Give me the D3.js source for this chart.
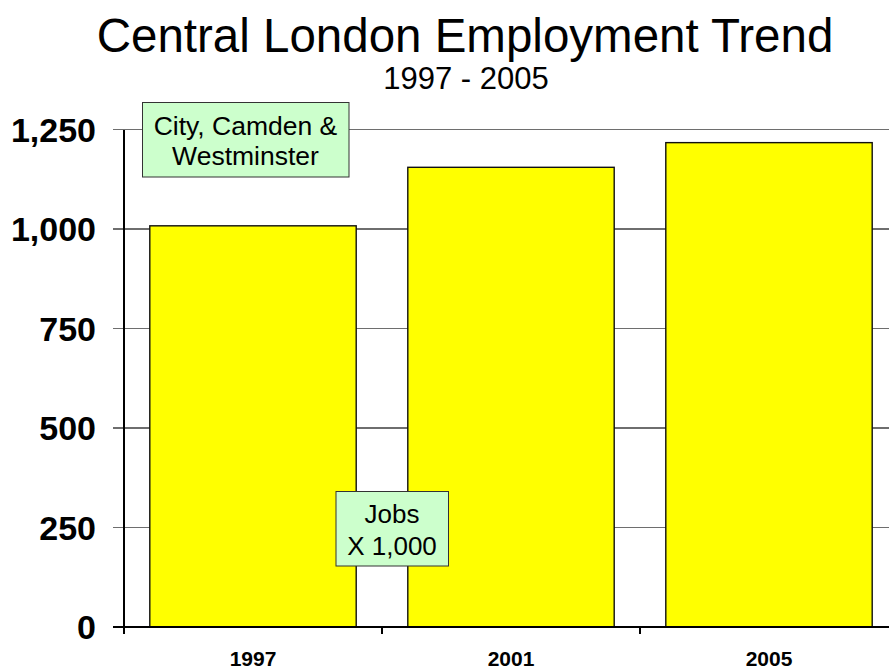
<!DOCTYPE html>
<html><head><meta charset="utf-8">
<script src="https://cdn.jsdelivr.net/npm/d3@7"></script>
<style>html,body{margin:0;padding:0;background:#fff;overflow:hidden}</style>
</head><body>
<script>
const categories = ["1997", "2001", "2005"];
const jobs = [1008, 1155, 1217];
const yTicks = [0, 250, 500, 750, 1000, 1250];
const titleText = "Central London Employment Trend";
const subtitleText = "1997 - 2005";
const areaLabel = ["City, Camden &", "Westminster"];
const unitLabel = ["Jobs", "X 1,000"];

const W = 889, H = 671;
const font = "'Liberation Sans', Arial, sans-serif";
const svg = d3.select("body").append("svg").attr("width", W).attr("height", H).style("font-family", font);

const x = d3.scaleBand().domain(categories).range([124, 898]).paddingInner(0.2).paddingOuter(0.1);
const y = d3.scaleLinear().domain([0, 1250]).range([627, 129.5]);
const step = x.step();
const x0 = 124;

// title
svg.append("text").attr("x", 465).attr("y", 52).attr("text-anchor", "middle")
  .attr("font-size", 47.5).text(titleText);
svg.append("text").attr("x", 466).attr("y", 89).attr("text-anchor", "middle")
  .attr("font-size", 31).text(subtitleText);

// gridlines
svg.append("g").selectAll("line").data(yTicks.filter(d => d > 0)).join("line")
  .attr("x1", 113).attr("x2", W).attr("y1", d => y(d)).attr("y2", d => y(d))
  .attr("stroke", "#6e6e6e").attr("stroke-width", 1.3).attr("shape-rendering", "crispEdges");

// bars
svg.append("g").selectAll("rect").data(jobs).join("rect")
  .attr("x", (d, i) => x(categories[i])).attr("width", x.bandwidth())
  .attr("y", d => y(d)).attr("height", d => y(0) - y(d))
  .attr("fill", "#ffff00").attr("stroke", "#111").attr("stroke-width", 1.4);

// y axis line
svg.append("line").attr("x1", x0).attr("x2", x0).attr("y1", y(1250)).attr("y2", 634)
  .attr("stroke", "#000").attr("stroke-width", 1.3).attr("shape-rendering", "crispEdges");
// x axis line
svg.append("line").attr("x1", 113).attr("x2", W).attr("y1", y(0)).attr("y2", y(0))
  .attr("stroke", "#000").attr("stroke-width", 1.5).attr("shape-rendering", "crispEdges");
// x ticks at band boundaries
svg.append("g").selectAll("line").data(d3.range(categories.length + 1)).join("line")
  .attr("x1", i => x0 + i * step).attr("x2", i => x0 + i * step)
  .attr("y1", y(0)).attr("y2", 634)
  .attr("stroke", "#000").attr("stroke-width", 1.3).attr("shape-rendering", "crispEdges");

// y tick labels
svg.append("g").selectAll("text").data(yTicks).join("text")
  .attr("x", 96).attr("y", d => y(d)).attr("dy", "0.36em").attr("text-anchor", "end")
  .attr("font-size", 34).attr("font-weight", "bold")
  .text(d => d3.format(",")(d));

// x labels
svg.append("g").selectAll("text").data(categories).join("text")
  .attr("x", d => x(d) + x.bandwidth() / 2).attr("y", 666).attr("text-anchor", "middle")
  .attr("font-size", 21).attr("font-weight", "bold").text(d => d);

// annotation boxes
function box(x1, y1, x2, y2, lines, cx, baselines, fs) {
  const g = svg.append("g");
  g.append("rect").attr("x", x1).attr("y", y1).attr("width", x2 - x1).attr("height", y2 - y1)
    .attr("fill", "#ccffcc").attr("stroke", "#333").attr("stroke-width", 1);
  g.selectAll("text").data(lines).join("text")
    .attr("x", cx).attr("y", (d, i) => baselines[i]).attr("text-anchor", "middle")
    .attr("font-size", fs).text(d => d);
}
box(142.5, 102.5, 349, 177, areaLabel, 245.5, [135, 165], 26.5);
box(336, 491.5, 448.5, 566, unitLabel, 392, [523, 555], 26);
</script>
</body></html>
